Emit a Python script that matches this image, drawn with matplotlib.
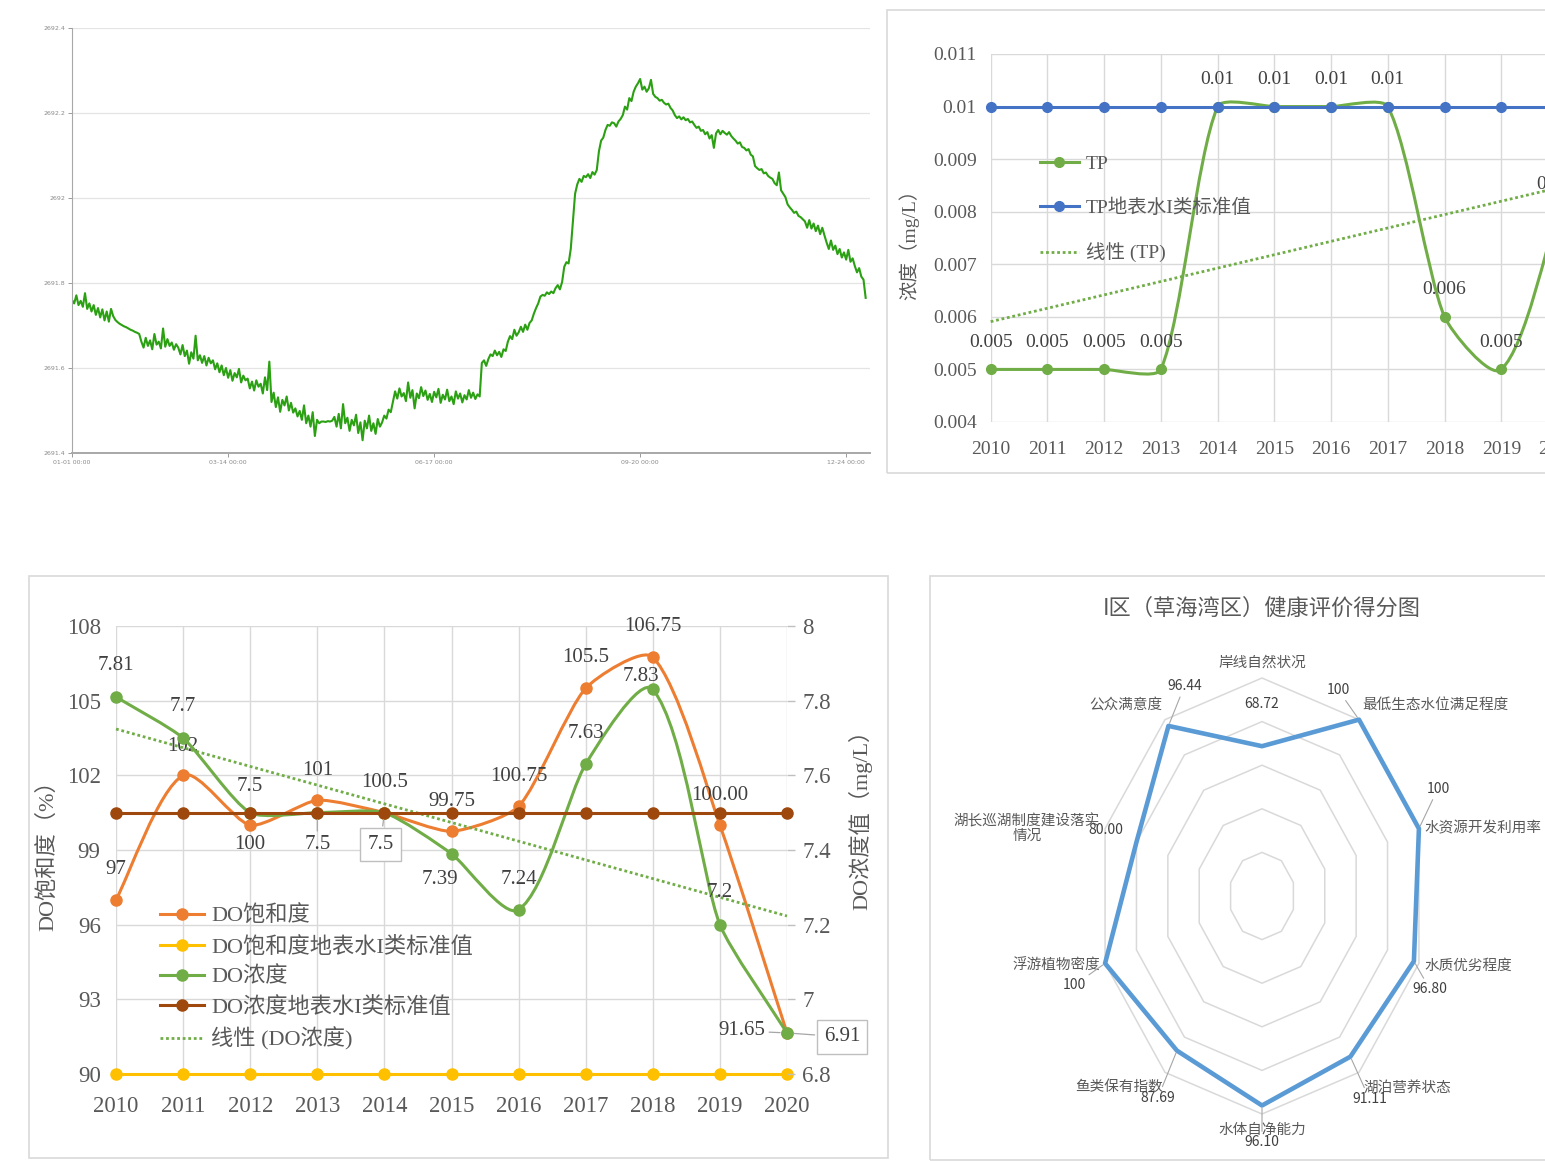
import numpy as np
import matplotlib
matplotlib.use("Agg")
import matplotlib.pyplot as plt
from matplotlib.path import Path
from matplotlib.patches import PathPatch, Rectangle, Polygon
from matplotlib.lines import Line2D

# ---------------------------------------------------------------- data
# daily water level (m) over one year
level = [
    2691.760, 2691.752, 2691.771, 2691.748, 2691.758, 2691.744, 2691.776, 2691.739, 2691.752, 2691.733,
    2691.748, 2691.725, 2691.741, 2691.719, 2691.738, 2691.712, 2691.733, 2691.709, 2691.739, 2691.722,
    2691.713, 2691.708, 2691.704, 2691.701, 2691.698, 2691.696, 2691.693, 2691.690, 2691.688, 2691.685,
    2691.683, 2691.680,
    2691.662, 2691.648, 2691.671, 2691.652, 2691.665, 2691.644, 2691.680, 2691.655, 2691.662, 2691.646,
    2691.693, 2691.650, 2691.668, 2691.652, 2691.660, 2691.643, 2691.656,
    2691.648, 2691.632, 2691.654, 2691.628, 2691.641, 2691.610, 2691.637, 2691.622, 2691.676, 2691.618,
    2691.630, 2691.612, 2691.628, 2691.606, 2691.624, 2691.611,
    2691.618, 2691.597, 2691.611, 2691.590, 2691.606, 2691.583, 2691.600, 2691.577, 2691.595, 2691.570,
    2691.588, 2691.578, 2691.598, 2691.566, 2691.582, 2691.571,
    2691.575, 2691.552, 2691.568, 2691.547, 2691.571, 2691.556, 2691.563, 2691.540, 2691.578, 2691.548,
    2691.615, 2691.520, 2691.542, 2691.508, 2691.531, 2691.497, 2691.525, 2691.512, 2691.533, 2691.500,
    2691.518, 2691.495,
    2691.505, 2691.486, 2691.499, 2691.478, 2691.512, 2691.470, 2691.488, 2691.462, 2691.496, 2691.440,
    2691.478, 2691.470,
    2691.474, 2691.474, 2691.473, 2691.475, 2691.474, 2691.476,
    2691.485, 2691.462, 2691.492, 2691.458, 2691.515, 2691.470, 2691.483, 2691.452, 2691.478, 2691.465,
    2691.490, 2691.447, 2691.472, 2691.430, 2691.476, 2691.458, 2691.488, 2691.452, 2691.470, 2691.445,
    2691.480, 2691.462,
    2691.472, 2691.488, 2691.481, 2691.502, 2691.496, 2691.521,
    2691.545, 2691.528, 2691.552, 2691.533, 2691.541, 2691.522, 2691.566, 2691.530, 2691.548, 2691.505,
    2691.540, 2691.529, 2691.555, 2691.534, 2691.547, 2691.525, 2691.539, 2691.520, 2691.544, 2691.531,
    2691.551, 2691.518, 2691.537, 2691.526, 2691.549, 2691.522, 2691.533, 2691.515, 2691.545, 2691.528,
    2691.540, 2691.519, 2691.536, 2691.526, 2691.548, 2691.530, 2691.542, 2691.527, 2691.538, 2691.533,
    2691.612, 2691.618, 2691.605, 2691.621, 2691.632, 2691.628, 2691.641, 2691.630, 2691.638, 2691.626,
    2691.644, 2691.640,
    2691.662, 2691.675, 2691.668, 2691.690, 2691.676, 2691.684, 2691.697, 2691.685, 2691.702, 2691.690,
    2691.706, 2691.712,
    2691.728, 2691.741, 2691.752, 2691.768, 2691.772, 2691.770, 2691.778, 2691.774, 2691.780, 2691.776,
    2691.788, 2691.795, 2691.785, 2691.802,
    2691.838, 2691.849, 2691.846, 2691.880, 2691.945, 2692.010, 2692.032,
    2692.045, 2692.038, 2692.052, 2692.049, 2692.056, 2692.047, 2692.061, 2692.055, 2692.066,
    2692.110, 2692.135, 2692.142, 2692.160, 2692.172, 2692.170, 2692.178, 2692.176, 2692.168, 2692.180,
    2692.186,
    2692.195, 2692.215, 2692.208, 2692.235, 2692.228, 2692.250, 2692.262, 2692.270, 2692.280,
    2692.255, 2692.262, 2692.250, 2692.258, 2692.278, 2692.245,
    2692.238, 2692.235, 2692.229, 2692.231, 2692.224, 2692.220, 2692.222, 2692.212, 2692.206,
    2692.195, 2692.188, 2692.192, 2692.185, 2692.190, 2692.183, 2692.186, 2692.178, 2692.180,
    2692.172, 2692.165, 2692.168, 2692.158, 2692.160, 2692.150, 2692.155, 2692.140, 2692.148, 2692.118,
    2692.152, 2692.160, 2692.150, 2692.158, 2692.153, 2692.149, 2692.155, 2692.146, 2692.140,
    2692.135, 2692.128, 2692.131, 2692.120, 2692.118, 2692.112, 2692.115, 2692.102, 2692.098,
    2692.075, 2692.070, 2692.066, 2692.068, 2692.058, 2692.060, 2692.052, 2692.048, 2692.045,
    2692.035, 2692.030, 2692.060, 2692.018, 2692.010, 2692.002,
    2691.985, 2691.978, 2691.972, 2691.965, 2691.968, 2691.958, 2691.955, 2691.950,
    2691.945, 2691.930, 2691.948, 2691.928, 2691.940, 2691.922, 2691.935, 2691.915, 2691.930, 2691.912,
    2691.895, 2691.880, 2691.900, 2691.878, 2691.888, 2691.868, 2691.880, 2691.860, 2691.872, 2691.855,
    2691.878, 2691.850, 2691.858,
    2691.840, 2691.825, 2691.835, 2691.815, 2691.808, 2691.765,
]
level_tick_days = [0, 72, 167, 262, 357]
level_tick_labels = ["01-01 00:00", "03-14 00:00", "06-17 00:00", "09-20 00:00", "12-24 00:00"]

years = [2010, 2011, 2012, 2013, 2014, 2015, 2016, 2017, 2018, 2019, 2020]

tp = [0.005, 0.005, 0.005, 0.005, 0.01, 0.01, 0.01, 0.01, 0.006, 0.005, 0.008]
tp_std = [0.01] * 11

do_sat = [97, 102, 100, 101, 100.5, 99.75, 100.75, 105.5, 106.75, 100.00, 91.65]
do_sat_decimals = [0, 0, 0, 0, 1, 2, 2, 1, 2, 2, 2]
do_sat_std = [90] * 11
do_conc = [7.81, 7.7, 7.5, 7.5, 7.5, 7.39, 7.24, 7.63, 7.83, 7.2, 6.91]
do_conc_std = [7.5] * 11

radar_items = ["岸线自然状况", "最低生态水位满足程度", "水资源开发利用率", "水质优劣程度",
               "湖泊营养状态", "水体自净能力", "鱼类保有指数", "浮游植物密度",
               "湖长巡湖制度建设落实\n情况", "公众满意度"]
radar_scores = [68.72, 100, 100, 96.80, 91.11, 96.10, 87.69, 100, 80.00, 96.44]
radar_decimals = [2, 0, 0, 2, 2, 2, 2, 0, 2, 2]

# ---------------------------------------------------------------- style
W, H = 1545, 1161
SERIF = ["Liberation Serif", "Noto Sans CJK SC"]
SANS = ["Noto Sans CJK SC", "DejaVu Sans"]
plt.rcParams["font.family"] = SERIF
TXT = "#595959"
GRID = "#d9d9d9"
ORANGE, YELLOW, GREEN, BROWN, BLUE = "#ED7D31", "#FFC000", "#70AD47", "#9E480E", "#4472C4"

fig = plt.figure(figsize=(W / 100, H / 100), dpi=100)


def rect(x0, y0, x1, y1):
    """pixel box (origin top-left) -> figure fraction [l, b, w, h]"""
    return [x0 / W, 1 - y1 / H, (x1 - x0) / W, (y1 - y0) / H]


def frame(x0, y0, x1, y1):
    fig.add_artist(Rectangle((x0 / W, 1 - y1 / H), (x1 - x0) / W, (y1 - y0) / H,
                             transform=fig.transFigure, fill=False, ec=GRID, lw=1.2, zorder=0))


def smooth_path(ax, xs, ys, t=0.2):
    """Bezier path through the points; tangents follow the neighbouring points and
    the handle length scales with each segment's on-screen length."""
    pts = ax.transData.transform(np.column_stack([xs, ys]).astype(float))
    n = len(pts)

    def tangent(i):
        v = pts[min(i + 1, n - 1)] - pts[max(i - 1, 0)]
        return v / np.hypot(*v)

    verts = [pts[0]]
    codes = [Path.MOVETO]
    for i in range(n - 1):
        seg = np.hypot(*(pts[i + 1] - pts[i]))
        verts += [pts[i] + tangent(i) * seg * t, pts[i + 1] - tangent(i + 1) * seg * t, pts[i + 1]]
        codes += [Path.CURVE4] * 3
    return Path(ax.transData.inverted().transform(np.array(verts)), codes)


def smooth_line(ax, xs, ys, color, lw, ms, z):
    ax.add_patch(PathPatch(smooth_path(ax, xs, ys), fill=False, ec=color, lw=lw,
                           zorder=z, clip_on=False, capstyle="round", joinstyle="round"))
    ax.plot(xs, ys, ls="none", marker="o", ms=ms, color=color, zorder=z + 0.1, clip_on=False)


# ================================================================ water level
ax0 = fig.add_axes(rect(72, 28, 870, 453))
days = np.arange(len(level))
ax0.plot(days, level, color="#2aa012", lw=1.5)
ax0.set_xlim(0, 368)
ax0.set_ylim(2691.4, 2692.4)
ax0.set_yticks(np.round(np.arange(2691.4, 2692.41, 0.2), 1))
ax0.yaxis.set_major_formatter(lambda v, p: f"{v:g}")
ax0.set_xticks(level_tick_days)
ax0.set_xticklabels(level_tick_labels)
ax0.grid(axis="y", color="#e4e4e4", lw=0.9)
ax0.set_axisbelow(True)
for s in ("top", "right"):
    ax0.spines[s].set_visible(False)
for s in ("left", "bottom"):
    ax0.spines[s].set_color("#a8a8a8")
ax0.spines["bottom"].set_linewidth(1.4)
ax0.tick_params(labelsize=4.5, colors="#8a8a8a", length=3, width=0.6, pad=2)
for t in ax0.get_xticklabels() + ax0.get_yticklabels():
    t.set_family("DejaVu Sans")

# ================================================================ TP panel
frame(887, 10, 1600, 473)
ax1 = fig.add_axes(rect(990.7, 54, 1558, 422))
ax1.set_xlim(2010, 2020)
ax1.set_ylim(0.004, 0.011)
ax1.set_xticks(years)
ax1.set_yticks(np.round(np.arange(0.004, 0.0111, 0.001), 3))
ax1.yaxis.set_major_formatter(lambda v, p: f"{v:g}")
ax1.grid(True, color=GRID, lw=1)
ax1.set_axisbelow(True)
for s in ax1.spines.values():
    s.set_visible(False)
ax1.tick_params(labelsize=14, colors=TXT, length=0)
ax1.tick_params(axis="y", pad=10)
ax1.tick_params(axis="x", pad=14)

smooth_line(ax1, years, tp, GREEN, 2.2, 7, 3)
ax1.plot(years, tp_std, color=BLUE, lw=2.2, marker="o", ms=7, zorder=4, clip_on=False)
k, b = np.polyfit(years, tp, 1)
ax1.plot([years[0], years[-1]], [k * years[0] + b, k * years[-1] + b], color=GREEN,
         lw=2, ls=(0, (1, 1)), zorder=3.5, clip_on=False)
for x, v in zip(years, tp):
    ax1.annotate(f"{v:g}", (x, v), xytext=(0, 27), textcoords="offset pixels",
                 ha="center", va="center", fontsize=14, color="#404040", zorder=6,
                 annotation_clip=False)
ax1.set_ylabel("浓度（mg/L）", fontsize=14, color=TXT)
ax1.yaxis.set_label_coords(-0.126, 0.495)

tp_handles = [
    Line2D([], [], color=GREEN, lw=2.2, marker="o", ms=7),
    Line2D([], [], color=BLUE, lw=2.2, marker="o", ms=7),
    Line2D([], [], color=GREEN, lw=2, ls=(0, (1, 1))),
]
fig.legend(tp_handles, ["TP", "TP地表水I类标准值", "线性 (TP)"], loc="upper left",
           bbox_to_anchor=(1040 / W, 1 - 155 / H), bbox_transform=fig.transFigure,
           frameon=False, fontsize=14, labelcolor=TXT, borderpad=0, borderaxespad=0,
           handlelength=2.0, handletextpad=0.35, labelspacing=1.32)

# ================================================================ DO panel
frame(29, 576, 888, 1158)
ax3 = fig.add_axes(rect(116, 626, 787, 1074))
ax4 = ax3.twinx()
ax3.set_xlim(2010, 2020)
ax3.set_ylim(90, 108)
ax4.set_ylim(6.8, 8)
ax3.set_xticks(years)
ax3.set_yticks(np.arange(90, 109, 3))
ax4.set_yticks(np.round(np.arange(6.8, 8.01, 0.2), 1))
ax4.yaxis.set_major_formatter(lambda v, p: f"{v:g}")
ax3.grid(True, color=GRID, lw=1)
ax3.set_axisbelow(True)
for a in (ax3, ax4):
    for s in a.spines.values():
        s.set_visible(False)
ax3.tick_params(labelsize=16.5, colors=TXT, length=0)
ax3.tick_params(axis="y", pad=11)
ax3.tick_params(axis="x", pad=16)
ax4.tick_params(labelsize=16.5, labelcolor=TXT, color="#bfbfbf", length=6, width=1, pad=5)

smooth_line(ax3, years, do_sat, ORANGE, 2.2, 8, 3)
ax3.plot(years, do_sat_std, color=YELLOW, lw=2.2, marker="o", ms=8, zorder=4, clip_on=False)
smooth_line(ax4, years, do_conc, GREEN, 2.2, 8, 3)
ax4.plot(years, do_conc_std, color=BROWN, lw=2.2, marker="o", ms=8, zorder=4, clip_on=False)
k2, b2 = np.polyfit(years, do_conc, 1)
ax4.plot([years[0], years[-1]], [k2 * years[0] + b2, k2 * years[-1] + b2], color=GREEN,
         lw=2, ls=(0, (1, 1)), zorder=3.5, clip_on=False)

LBL = dict(textcoords="offset pixels", ha="center", va="center", fontsize=15,
           color="#404040", zorder=7, annotation_clip=False)
LEAD = dict(arrowstyle="-", color="#a6a6a6", lw=0.9, shrinkA=1, shrinkB=5)
BOX = dict(boxstyle="square,pad=0.35", fc="white", ec="#bfbfbf", lw=1)

sat_offsets = [(0, 30), (0, 29), (0, -19), (0, 30), (0, 30), (0, 30),
               (0, 30), (0, 31), (0, 31), (0, 30), (-22, 2)]
for x, v, d, off in zip(years, do_sat, do_sat_decimals, sat_offsets):
    if x == years[-1]:
        ax3.annotate(f"{v:.{d}f}", (x, v), xytext=off, arrowprops=LEAD,
                     **{**LBL, "ha": "right"})
    else:
        ax3.annotate(f"{v:.{d}f}", (x, v), xytext=off, **LBL)

conc_offsets = [(0, 31), (0, 31), (0, 26), (0, -32), (-4, -32), (-12, -26),
                (0, 30), (0, 31), (-12, 13), (0, 32), (55, -4)]
for i, (x, v, off) in enumerate(zip(years, do_conc, conc_offsets)):
    extra = {}
    if i == 3:
        extra = dict(arrowprops=LEAD)
    if i in (4, 10):
        extra = dict(arrowprops=LEAD, bbox=BOX)
    ax4.annotate(f"{v:g}", (x, v), xytext=off, **LBL, **extra)

ax3.set_ylabel("DO饱和度（%）", fontsize=16, color=TXT)
ax3.yaxis.set_label_coords(-0.086, 0.5)
ax4.set_ylabel("DO浓度值（mg/L）", fontsize=16, color=TXT)
ax4.yaxis.set_label_coords(1.091, 0.58)

do_handles = [
    Line2D([], [], color=ORANGE, lw=2.2, marker="o", ms=8),
    Line2D([], [], color=YELLOW, lw=2.2, marker="o", ms=8),
    Line2D([], [], color=GREEN, lw=2.2, marker="o", ms=8),
    Line2D([], [], color=BROWN, lw=2.2, marker="o", ms=8),
    Line2D([], [], color=GREEN, lw=2, ls=(0, (1, 1))),
]
fig.legend(do_handles, ["DO饱和度", "DO饱和度地表水I类标准值", "DO浓度", "DO浓度地表水I类标准值",
                        "线性 (DO浓度)"], loc="upper left",
           bbox_to_anchor=(160 / W, 1 - 906 / H), bbox_transform=fig.transFigure,
           frameon=False, fontsize=16, labelcolor=TXT, borderpad=0, borderaxespad=0,
           handlelength=2.0, handletextpad=0.3, labelspacing=0.42)

# ================================================================ radar panel
frame(930, 576, 1600, 1160)
RX, RY, CX, CY = 165.0, 218.0, 1262.0, 896.0
axr = fig.add_axes(rect(930, 576, 1545, 1161))
axr.set_xlim(-(CX - 930) / RX, (W - CX) / RX)
axr.set_ylim(-(H - CY) / RY, (CY - 576) / RY)
axr.axis("off")
axr.patch.set_visible(False)

n = len(radar_items)
theta = np.deg2rad(np.arange(n) * 360.0 / n)
ux, uy = np.sin(theta), np.cos(theta)
full = 100.0
for r in (0.2, 0.4, 0.6, 0.8, 1.0):
    axr.add_patch(Polygon(np.column_stack([r * ux, r * uy]), closed=True, fill=False,
                          ec=GRID, lw=1.1, zorder=1))
rs = np.asarray(radar_scores) / full
axr.add_patch(Polygon(np.column_stack([rs * ux, rs * uy]), closed=True, fill=False,
                      ec="#5B9BD5", lw=3.3, zorder=3, joinstyle="round"))

cat_pos = [((0, 15), "center"), ((3, 15), "left"), ((6, 0), "left"), ((6, -2), "left"),
           ((4, -15), "left"), ((0, -16), "center"), ((-2, -15), "right"),
           ((-5, -2), "right"), ((-5, 0), "right"), ((-3, 15), "right")]
for name, x, y, (off, ha) in zip(radar_items, ux, uy, cat_pos):
    axr.annotate(name, (x, y), xytext=off, textcoords="offset pixels", ha=ha, va="center",
                 multialignment="center", fontsize=10.5, color=TXT, family=SANS,
                 linespacing=1.05, annotation_clip=False)

val_pos = [((0, 42), False), ((-21, 30), True), ((19, 40), True), ((16, -28), True),
           ((19, -42), True), ((0, -37), True), ((-19, -47), True), ((-31, -22), True),
           ((-31, 12), False), ((16, 40), True)]
for v, d, x, y, (off, lead) in zip(radar_scores, radar_decimals, rs * ux, rs * uy, val_pos):
    extra = dict(arrowprops=dict(arrowstyle="-", color="#a6a6a6", lw=0.8,
                                 shrinkA=1, shrinkB=2)) if lead else {}
    axr.annotate(f"{v:.{d}f}", (x, y), xytext=off, textcoords="offset pixels",
                 ha="center", va="center", fontsize=10, color="#404040", family=SANS,
                 annotation_clip=False, **extra)

fig.text(CX / W, 1 - 608 / H, "I区（草海湾区）健康评价得分图", ha="center", va="center",
         fontsize=16, color=TXT, family=SANS)

fig.savefig("out.png", dpi=100, facecolor="white")
